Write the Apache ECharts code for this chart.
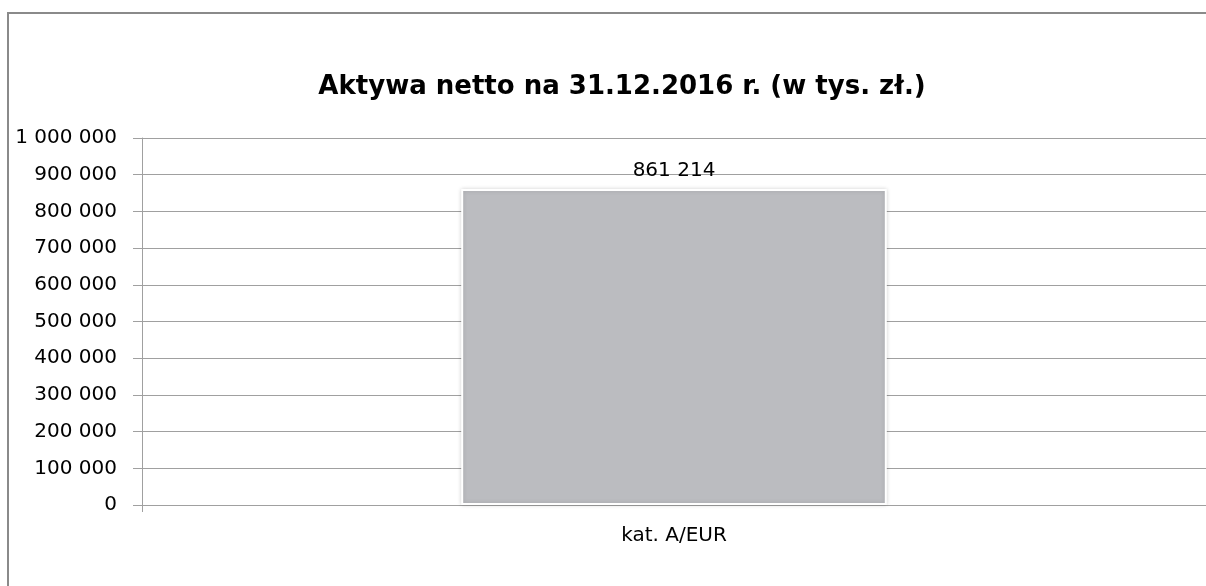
<!DOCTYPE html>
<html>
<head>
<meta charset="utf-8">
<script src="https://cdn.jsdelivr.net/npm/echarts@6/dist/echarts.min.js"></script>
<style>
  html, body { margin: 0; padding: 0; background: #fff; }
  #chart { width: 1206px; height: 586px; }
</style>
</head>
<body>
<div id="chart"></div>
<script>
// dane wykresu
const categories = ["kat. A/EUR"];
const values = [861214];
const yTicks = [0, 100000, 200000, 300000, 400000, 500000, 600000, 700000, 800000, 900000, 1000000];

// 1000000 -> "1 000 000"
function spaced(v) {
  return String(Math.round(v)).replace(/\B(?=(\d{3})+(?!\d))/g, " ");
}

const myChart = echarts.init(document.getElementById("chart"));
myChart.setOption({
  backgroundColor: "#fff",
  animation: false,
  textStyle: { fontFamily: "DejaVu Sans" },
  title: {
    text: "Aktywa netto na 31.12.2016 r. (w tys. zł.)",
    left: 617,
    top: 69,
    textAlign: "center",
    textStyle: {
      fontFamily: "DejaVu Sans",
      fontWeight: "bold",
      fontSize: 26,
      color: "#000",
    },
  },
  graphic: [
    {
      type: "rect",
      shape: { x: 8, y: 13, width: 1400, height: 800 },
      style: { fill: null, stroke: "#8a8a8a", lineWidth: 2 },
      silent: true,
    },
  ],
  grid: {
    left: 142,
    right: -2,
    top: 138,
    bottom: 81,
  },
  xAxis: {
    type: "category",
    data: categories,
    axisLine: { lineStyle: { color: "#a0a0a0", width: 1 } },
    axisTick: { show: true, length: 7, lineStyle: { color: "#a0a0a0" } },
    axisLabel: {
      margin: 21,
      fontSize: 20,
      color: "#000",
    },
  },
  yAxis: {
    type: "value",
    min: yTicks[0],
    max: yTicks[yTicks.length - 1],
    interval: yTicks[1] - yTicks[0],
    axisLine: { show: true, lineStyle: { color: "#a0a0a0" } },
    axisTick: { show: true, length: 9, lineStyle: { color: "#a0a0a0" } },
    axisLabel: {
      margin: 25,
      fontSize: 20,
      color: "#000",
      formatter: spaced,
    },
    splitLine: { lineStyle: { color: "#a0a0a0", width: 1 } },
  },
  series: [
    {
      type: "bar",
      data: values,
      barWidth: "40%",
      itemStyle: {
        color: "#bbbcc0",
        borderColor: "#fff",
        borderWidth: 2,
        shadowColor: "rgba(0,0,0,0.15)",
        shadowBlur: 4,
      },
      label: {
        show: true,
        position: "top",
        distance: 8,
        fontSize: 20,
        color: "#000",
        formatter: (p) => spaced(p.value),
      },
    },
  ],
});
</script>
</body>
</html>
